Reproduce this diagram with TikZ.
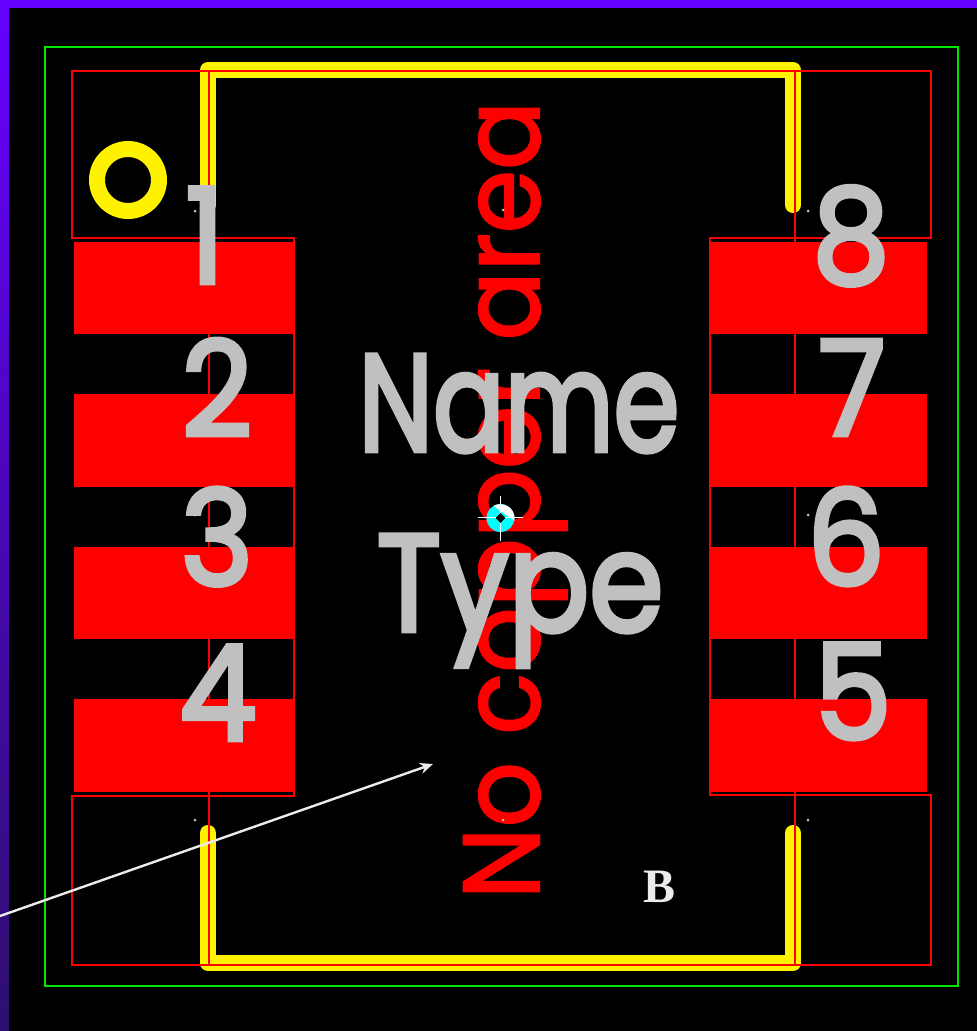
\documentclass[tikz,border=0pt]{standalone}
\usepackage{fontspec}
\usetikzlibrary{arrows.meta,shapes.geometric}
\setmainfont{Liberation Serif}
\newfontfamily\pcbfont[FakeBold=3.5]{Poppins}
\newfontfamily\redfont[FakeBold=2]{Poppins}
\definecolor{bandtop}{RGB}{102,0,255}
\definecolor{bandlow}{RGB}{45,15,110}
\definecolor{silkgray}{RGB}{192,192,192}
\definecolor{boardgreen}{RGB}{0,230,0}
\definecolor{markcyan}{RGB}{0,255,255}
\newcommand{\silktext}[3]{\scalebox{#1}[1]{\fontsize{#2}{#2}\pcbfont #3}}

\begin{document}
\begin{tikzpicture}[x=1pt,y=-1pt,
      pad/.style = {fill=red},
      outline/.style = {draw=red, line width=2pt},
      silk/.style = {draw=yellow, line width=16pt, line cap=round, line join=round},
      pinlabel/.style = {text=silkgray, inner sep=0pt, anchor=base},
      drill/.style = {fill=silkgray, circle, inner sep=0pt, minimum size=3pt}]
      \useasboundingbox (0,0) rectangle (977,1031);
      \fill[black] (0,0) rectangle (977,1031);
      \shade[top color=bandtop, bottom color=bandlow] (0,0) rectangle (9,1031);
      \fill[bandtop] (0,0) rectangle (977,8);
      % board edge
      \draw[boardgreen, line width=2.4pt] (45,47) rectangle (958,986);
      % pads
      \foreach \top/\low in {242/334, 394/487, 547/639, 699/792} {
        \fill[pad] (74,\top) rectangle (294,\low);
        \fill[pad] (710,\top) rectangle (927,\low);
      }
      % silk
      \draw[silk] (208,205) -- (208,70) -- (793,70) -- (793,205);
      \draw[silk] (208,833) -- (208,963) -- (793,963) -- (793,833);
      \draw[silk, line width=16pt] (128,180) circle (31);
      % keepout lines
      \draw[outline] (72,238) -- (72,71) -- (931,71) -- (931,238) -- (710,238) -- (710,795) -- (931,795)
        -- (931,965) -- (72,965) -- (72,796) -- (294,796) -- (294,238) -- cycle;
      \draw[outline] (208.5,71) -- (208.5,205);
      \draw[outline] (208.5,238) -- (208.5,965);
      \draw[outline] (795,71) -- (795,965);
      % red label
      \node[rotate=90, text=red, inner sep=0pt, anchor=base] (nocopper) at (539,500)
        {\scalebox{0.946}[1]{\fontsize{108}{108}\redfont No copper area}};
      % pin numbers
      \foreach \pin/\px/\py in {1/205/283, 2/217/436, 3/217/585, 4/218/740,
                                8/851/283, 7/852/435, 6/846/585, 5/853/739} {
        \node[pinlabel] (pin\pin) at (\px,\py) {\silktext{0.93}{132}{\pin}};
      }
      \node[pinlabel] (partname) at (519,451) {\silktext{0.767}{138}{Name}};
      \node[pinlabel] (parttype) at (520,631) {\silktext{0.866}{138}{Type}};
      % origin mark
      \fill[markcyan] (500.5,518) circle (14);
      \fill[white] (493.5,506) arc (-120:10:14) -- cycle;
      \draw[white, line width=1.4pt] (478,517.5) -- (523,517.5) (500.5,496) -- (500.5,541);
      \node[fill=black, diamond, inner sep=0pt, minimum size=10pt] at (500.5,518) {};
      % drill dots
      \foreach \dx/\dy in {195/820, 808/820, 503/210, 503/820, 195/515, 808/515, 808/211, 195/211} {
        \node[drill] at (\dx,\dy) {};
      }
      % arrow
      \coordinate (arrowstart) at (0,916);
      \coordinate (arrowend) at (433,764);
      \draw[white!92!black, line width=2.4pt, -{Stealth[length=13pt,width=11pt]}] (arrowstart) -- (arrowend);
      \node[text=white!92!black, inner sep=0pt, anchor=base] (labelb) at (660,902)
        {\fontsize{48}{48}\selectfont\bfseries B};
  \end{tikzpicture}
\end{document}
